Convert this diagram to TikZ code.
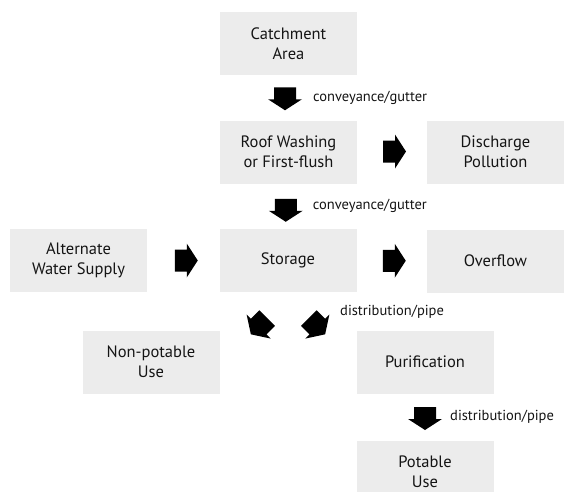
\documentclass[tikz,border=0pt]{standalone}
\usepackage{fontspec}
\setmainfont{PT Sans}
\usetikzlibrary{calc}
\definecolor{boxgray}{RGB}{236,236,236}
\definecolor{txt}{RGB}{20,20,20}
\tikzset{
  box/.style={fill=boxgray, draw=none, minimum width=137pt, minimum height=63pt,
    inner sep=0pt, align=center, font=\fontsize{16.5}{20}\selectfont, text=txt},
  lbl/.style={anchor=west, inner sep=0pt, font=\fontsize{14.5}{16}\selectfont, text=txt},
  pics/barrow/.style={code={
    \fill[black] (-11.5,-11) -- (0.5,-11) -- (0.5,-17) -- (11.5,0)
      -- (0.5,17) -- (0.5,11) -- (-11.5,11) -- cycle;}}
}
\begin{document}
\begin{tikzpicture}[x=1pt,y=-1pt]
\useasboundingbox (0,0) rectangle (566,491);
\clip (0,0) rectangle (566,491);
% boxes
\node[box] (catch)  at (288.5,43.5) {Catchment\\Area};
\node[box] (roof)   at (288.5,152)  {Roof Washing\\or First-flush};
\node[box] (disch)  at (495.5,152)  {Discharge\\Pollution};
\node[box] (alt)    at (78.5,260.5) {Alternate\\Water Supply};
\node[box] (stor)   at (288,260.5)  {Storage};
\node[box] (over)   at (495.5,261)  {Overflow};
\node[box] (nonpot) at (151,362)    {Non-potable\\Use};
\node[box] (purif)  at (425,362)    {Purification};
\node[box] (pot)    at (425,472)    {Potable\\Use};
% block arrows (connectors)
\coordinate (a1) at ($(catch.south)!0.5!(roof.north)+(-3.5,1)$);
\coordinate (a2) at ($(roof.south)!0.5!(stor.north)+(-2.5,4)$);
\coordinate (a3) at ($(roof.east)!0.5!(disch.west)+(2.5,-0.5)$);
\coordinate (a4) at ($(alt.east)!0.5!(stor.west)+(3,0)$);
\coordinate (a5) at ($(stor.east)!0.5!(over.west)+(2.5,0)$);
\coordinate (a6) at ($(stor.south)+(-29,34)$);
\coordinate (a7) at ($(stor.south)+(29,34)$);
\coordinate (a8) at ($(purif.south)!0.5!(pot.north)+(0,1.5)$);
\pic[rotate=-90] at (a1) {barrow};
\pic[rotate=-90] at (a2) {barrow};
\pic at (a3) {barrow};
\pic at (a4) {barrow};
\pic at (a5) {barrow};
\pic[rotate=-135] at (a6) {barrow};
\pic[rotate=-45] at (a7) {barrow};
\pic[rotate=-90] at (a8) {barrow};
% labels
\node[lbl] (l1) at ($(a1)+(28,-1)$) {conveyance/gutter};
\node[lbl] (l2) at ($(a2)+(27,-4)$) {conveyance/gutter};
\node[lbl] (l3) at ($(a7)+(23,-14)$) {distribution/pipe};
\node[lbl] (l4) at ($(a8)+(25,-1.5)$) {distribution/pipe};
\end{tikzpicture}
\end{document}
